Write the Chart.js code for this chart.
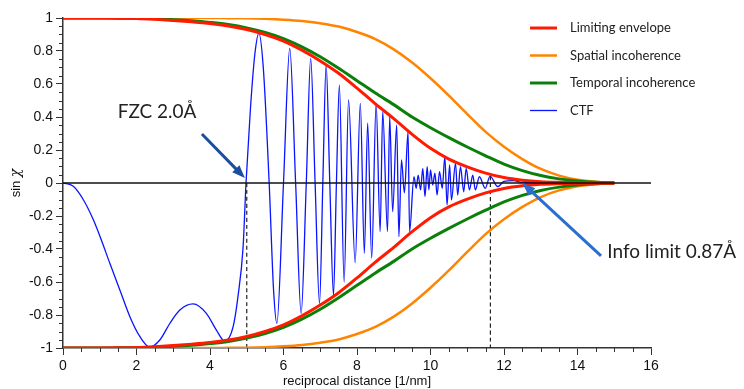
<!DOCTYPE html>
<html>
<head>
<meta charset="utf-8">
<script src="https://cdn.jsdelivr.net/npm/chart.js@4.4.1/dist/chart.umd.min.js"></script>
<style>
    body { margin: 0; background: #fff; }
    #wrap { width: 744px; height: 389px; position: relative; }
</style>
</head>
<body>
<div id="wrap"><canvas id="ctfChart"></canvas></div>
<script>
// Envelopes, every 0.5 1/nm
const envX = [0, 0.5, 1, 1.5, 2, 2.5, 3, 3.5, 4, 4.5, 5, 5.5, 6, 6.5, 7, 7.5, 8, 8.5, 9, 9.5, 10, 10.5, 11, 11.5, 12, 12.5, 13, 13.5, 14, 14.5, 15];
const limitingUpper = [1, 1, 1, 0.999, 0.997, 0.992, 0.985, 0.977, 0.967, 0.952, 0.93, 0.9, 0.86, 0.805, 0.74, 0.665, 0.575, 0.48, 0.39, 0.295, 0.21, 0.145, 0.098, 0.06, 0.033, 0.017, 0.008, 0.004, 0.002, 0.001, 0];
const limitingLower = [-1, -1, -1, -0.999, -0.997, -0.992, -0.985, -0.977, -0.967, -0.952, -0.93, -0.9, -0.86, -0.805, -0.74, -0.665, -0.575, -0.48, -0.39, -0.295, -0.21, -0.145, -0.098, -0.06, -0.033, -0.017, -0.008, -0.004, -0.002, -0.001, 0];
const spatialUpper = [1, 1, 1, 1, 1, 1, 1, 1, 1, 0.999, 0.998, 0.995, 0.99, 0.982, 0.968, 0.948, 0.915, 0.872, 0.81, 0.73, 0.635, 0.53, 0.418, 0.31, 0.22, 0.145, 0.085, 0.045, 0.02, 0.007, 0];
const spatialLower = [-1, -1, -1, -1, -1, -1, -1, -1, -1, -0.999, -0.998, -0.995, -0.99, -0.982, -0.968, -0.948, -0.915, -0.872, -0.81, -0.73, -0.635, -0.53, -0.418, -0.31, -0.22, -0.145, -0.085, -0.045, -0.02, -0.007, 0];
const temporalUpper = [1, 1, 1, 0.999, 0.998, 0.995, 0.99, 0.983, 0.973, 0.96, 0.94, 0.912, 0.875, 0.825, 0.765, 0.695, 0.62, 0.545, 0.475, 0.4, 0.335, 0.275, 0.218, 0.165, 0.115, 0.075, 0.045, 0.025, 0.012, 0.004, 0];
const temporalLower = [-1, -1, -1, -0.999, -0.998, -0.995, -0.99, -0.983, -0.973, -0.96, -0.94, -0.912, -0.875, -0.825, -0.765, -0.695, -0.62, -0.545, -0.475, -0.4, -0.335, -0.275, -0.218, -0.165, -0.115, -0.075, -0.045, -0.025, -0.012, -0.004, 0];

// CTF, extrema and crossings
const ctfX = [0, 0.28, 0.55, 0.82, 1.0, 1.28, 1.55, 1.82, 2.09, 2.36, 2.64, 2.91, 3.18, 3.54, 3.9, 4.17, 4.4, 4.63, 4.76, 4.9, 4.98,
    5.1, 5.22, 5.33, 5.45, 5.61, 5.73, 5.82, 6.0, 6.17, 6.33, 6.48, 6.62, 6.74, 6.86, 6.98, 7.07, 7.16, 7.26, 7.36, 7.44, 7.52,
    7.65, 7.77, 7.95, 8.09, 8.2, 8.29, 8.4, 8.52, 8.63, 8.7, 8.83, 8.89, 8.97, 9.08, 9.14, 9.21, 9.29, 9.39, 9.43,
    9.55, 9.61, 9.665, 9.73, 9.79, 9.85, 9.91, 9.955, 10.0, 10.06, 10.12, 10.18, 10.245, 10.32, 10.39, 10.45, 10.52, 10.57,
    10.68, 10.74, 10.815, 10.905, 10.97, 11.06, 11.15, 11.22, 11.33, 11.49, 11.62, 11.83, 12.0, 12.25, 12.5, 13, 15];
const ctfY = [0, -0.02, -0.1, -0.22, -0.32, -0.49, -0.65, -0.81, -0.93, -0.995, -0.95, -0.85, -0.77, -0.733, -0.79, -0.89, -0.958, -0.87, -0.69, -0.39, 0,
    0.45, 0.78, 0.907, 0.7, 0, -0.65, -0.85, 0, 0.815, 0, -0.79, 0, 0.755, 0, -0.73, 0, 0.715, 0, -0.68, 0, 0.594,
    -0.6, 0.503, -0.483, 0.483, -0.426, 0.362, -0.456, 0.483, -0.295, 0.432, -0.295, 0.402, -0.174, 0.352, -0.325, 0.14, -0.06, 0.311, -0.295,
    0.038, -0.032, 0.048, -0.042, 0.089, -0.083, 0.099, -0.042, 0.079, -0.012, 0.059, -0.073, 0.069, -0.032, 0.16, -0.133, 0.109, -0.103,
    0.119, -0.073, 0.099, -0.053, 0.089, -0.042, 0.048, -0.042, 0.038, -0.032, 0.042, -0.022, 0.01, 0.015, 0.003, 0, 0];

// marker lines and annotations
const fzcX = 5.0;
const infoLimitX = 11.63;
const fzcLabel = 'FZC 2.0Å';
const infoLabel = 'Info limit 0.87Å';
const legendLabels = ['Limiting envelope', 'Spatial incoherence', 'Temporal incoherence', 'CTF'];

const RED = '#ff1a00';
const ORANGE = '#ff8400';
const GREEN = '#0a800a';
const BLUE = '#0a14ff';

function pts(xs, ys) {
    return xs.map((x, i) => ({ x: x, y: ys[i] }));
}

function line(data, color, width, extra) {
    return Object.assign({
        data: data,
        borderColor: color,
        borderWidth: width,
        pointRadius: 0,
        fill: false,
        cubicInterpolationMode: 'monotone'
    }, extra || {});
}

const datasets = [
    line([{ x: 0, y: 0 }, { x: 16, y: 0 }], '#111', 1.3),
    line(pts(envX, limitingUpper), RED, 3),
    line(pts(envX, limitingLower), RED, 3),
    line(pts(envX, temporalUpper), GREEN, 3),
    line(pts(envX, temporalLower), GREEN, 3),
    line(pts(envX, spatialUpper), ORANGE, 2.5),
    line(pts(envX, spatialLower), ORANGE, 2.5),
    line([{ x: fzcX, y: 0 }, { x: fzcX, y: -1 }], '#222', 1.2, { borderDash: [4, 3] }),
    line([{ x: infoLimitX, y: 0.04 }, { x: infoLimitX, y: -1 }], '#222', 1.2, { borderDash: [4, 3] }),
    line(pts(ctfX, ctfY), BLUE, 1.3)
];

function drawArrow(ctx, x1, y1, x2, y2, color) {
    const ang = Math.atan2(y2 - y1, x2 - x1);
    const len = 13, half = 5;
    ctx.save();
    ctx.strokeStyle = color;
    ctx.fillStyle = color;
    ctx.lineWidth = 3;
    ctx.beginPath();
    ctx.moveTo(x1, y1);
    ctx.lineTo(x2 - Math.cos(ang) * len * 0.8, y2 - Math.sin(ang) * len * 0.8);
    ctx.stroke();
    ctx.beginPath();
    ctx.moveTo(x2, y2);
    ctx.lineTo(x2 - Math.cos(ang) * len - Math.sin(ang) * half, y2 - Math.sin(ang) * len + Math.cos(ang) * half);
    ctx.lineTo(x2 - Math.cos(ang) * len + Math.sin(ang) * half, y2 - Math.sin(ang) * len - Math.cos(ang) * half);
    ctx.closePath();
    ctx.fill();
    ctx.restore();
}

const extrasPlugin = {
    id: 'extras',
    afterDraw(chart) {
        const ctx = chart.ctx;
        const xs = chart.scales.x;
        const ys = chart.scales.y;
        const area = chart.chartArea;

        // minor ticks
        ctx.save();
        ctx.strokeStyle = '#333';
        ctx.lineWidth = 1;
        ctx.beginPath();
        for (let i = 0; i <= 32; i++) {
            if (i % 4 === 0) continue;
            const px = Math.round(xs.getPixelForValue(i * 0.5)) + 0.5;
            ctx.moveTo(px, area.bottom);
            ctx.lineTo(px, area.bottom + 4);
        }
        for (let i = 0; i <= 40; i++) {
            if (i % 4 === 0) continue;
            const py = Math.round(ys.getPixelForValue(-1 + i * 0.05)) + 0.5;
            ctx.moveTo(area.left, py);
            ctx.lineTo(area.left - 4, py);
        }
        ctx.stroke();
        ctx.restore();

        // y title
        ctx.save();
        ctx.translate(16, (area.top + area.bottom) / 2);
        ctx.rotate(-Math.PI / 2);
        ctx.fillStyle = '#111';
        ctx.textBaseline = 'middle';
        ctx.font = '13px "Liberation Sans", Arial, sans-serif';
        const w1 = ctx.measureText('sin ').width;
        ctx.font = 'italic 14px "DejaVu Serif", serif';
        const w2 = ctx.measureText('χ').width;
        const start = -(w1 + w2) / 2;
        ctx.font = '13px "Liberation Sans", Arial, sans-serif';
        ctx.textAlign = 'left';
        ctx.fillText('sin ', start, 0);
        ctx.font = 'italic 14px "DejaVu Serif", serif';
        ctx.fillText('χ', start + w1, 0);
        ctx.restore();

        // legend
        const colors = [RED, ORANGE, GREEN, BLUE];
        const widths = [3, 2.5, 3, 1.3];
        ctx.save();
        ctx.font = '13px Lato, sans-serif';
        ctx.textBaseline = 'middle';
        ctx.fillStyle = '#222';
        legendLabels.forEach((label, i) => {
            const y = 28 + i * 27.5;
            ctx.strokeStyle = colors[i];
            ctx.lineWidth = widths[i];
            ctx.beginPath();
            ctx.moveTo(530, y);
            ctx.lineTo(557, y);
            ctx.stroke();
            ctx.fillText(label, 570, y);
        });
        ctx.restore();

        // annotations
        ctx.save();
        ctx.font = '19px Lato, sans-serif';
        ctx.fillStyle = '#222';
        ctx.textBaseline = 'middle';
        ctx.textAlign = 'center';
        ctx.fillText(fzcLabel, xs.getPixelForValue(2.56), ys.getPixelForValue(0.43));
        ctx.textAlign = 'left';
        ctx.fillText(infoLabel, xs.getPixelForValue(14.81), ys.getPixelForValue(-0.418));
        ctx.restore();

        drawArrow(ctx, xs.getPixelForValue(3.78), ys.getPixelForValue(0.297),
            xs.getPixelForValue(4.95), ys.getPixelForValue(0.03), '#1c4e9e');
        drawArrow(ctx, xs.getPixelForValue(14.64), ys.getPixelForValue(-0.442),
            xs.getPixelForValue(12.5), ys.getPixelForValue(0.0), '#2a6ed0');
    }
};

new Chart(document.getElementById('ctfChart'), {
    type: 'line',
    data: { datasets: datasets },
    options: {
        responsive: true,
        maintainAspectRatio: false,
        animation: false,
        layout: { padding: { top: 18, right: 93, left: 0, bottom: 0 } },
        plugins: {
            legend: { display: false },
            tooltip: { enabled: false }
        },
        scales: {
            x: {
                type: 'linear',
                min: 0,
                max: 16,
                ticks: {
                    stepSize: 2,
                    color: '#111',
                    padding: 3,
                    maxRotation: 0,
                    font: { family: '"Liberation Sans", Arial, sans-serif', size: 14 }
                },
                grid: { drawOnChartArea: false, tickLength: 7, color: '#333' },
                border: { color: '#333', width: 1.5 },
                title: {
                    display: true,
                    text: 'reciprocal distance [1/nm]',
                    color: '#111',
                    padding: { top: 1, bottom: 0 },
                    font: { family: '"Liberation Sans", Arial, sans-serif', size: 13 }
                },
                afterFit: (scale) => { scale.height = 41; }
            },
            y: {
                type: 'linear',
                min: -1,
                max: 1,
                ticks: {
                    stepSize: 0.2,
                    color: '#111',
                    padding: 3,
                    font: { family: '"Liberation Sans", Arial, sans-serif', size: 14 },
                    callback: (v) => String(Math.round(v * 10) / 10)
                },
                grid: { drawOnChartArea: false, tickLength: 7, color: '#333' },
                border: { color: '#333', width: 1.5 },
                afterFit: (scale) => { scale.width = 63; }
            }
        }
    },
    plugins: [extrasPlugin]
});
</script>
</body>
</html>
